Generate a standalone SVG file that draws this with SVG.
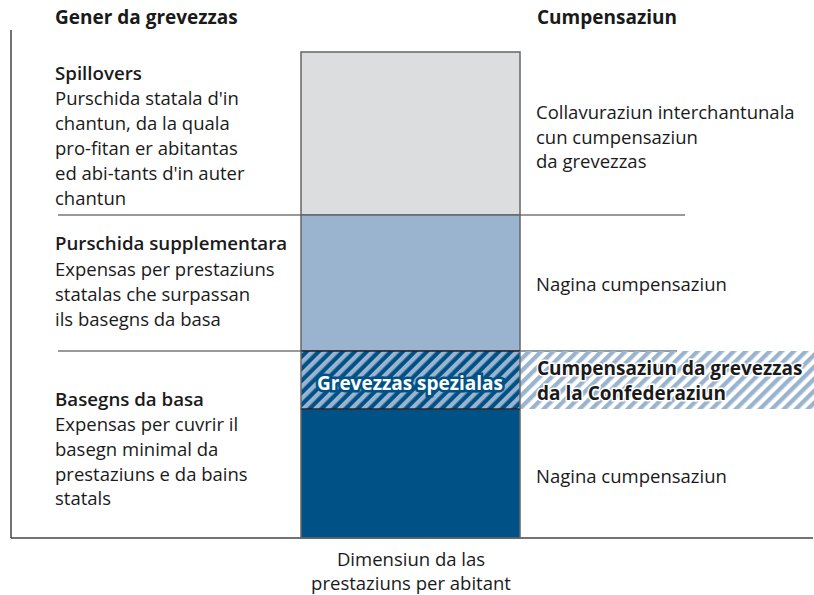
<svg xmlns="http://www.w3.org/2000/svg" width="814" height="595" viewBox="0 0 814 595">
<style>
text{font-family:"Open Sans","Noto Sans","Liberation Sans",sans-serif;font-size:18.5px;fill:#1a1a1a}
.b{font-weight:700;font-size:19px}
.h{font-weight:600;font-size:18.7px}
.axis{stroke:#444;stroke-width:1.5;fill:none}
.sep{stroke:#777;stroke-width:1.5;fill:none}
.box{stroke:#666;stroke-width:1.5}
</style>
<defs>
<pattern id="hatch" patternUnits="userSpaceOnUse" width="8.5" height="8.5" patternTransform="rotate(45)">
<rect x="0" y="0" width="4.3" height="8.5" fill="#9ab4d0"/>
</pattern>
</defs>
<g id="axes">
<line class="axis" x1="11" y1="30" x2="11" y2="538"/>
<line class="axis" x1="11" y1="538" x2="813" y2="538"/>
</g>
<g id="connectors">
<line class="sep" x1="58" y1="215" x2="685" y2="215"/>
<line class="sep" x1="58" y1="351" x2="677" y2="351"/>
</g>
<g id="headers">
<text class="b" x="55" y="24">Gener da grevezzas</text>
<text class="b" x="537" y="24">Cumpensaziun</text>
</g>
<g id="spillovers">
<rect class="box" x="301" y="52" width="219" height="163" fill="#dcdddf"/>
<text x="55" y="80" class="h">Spillovers</text>
<text x="55" y="105">Purschida statala d'in</text>
<text x="55" y="130">chantun, da la quala</text>
<text x="55" y="155">pro-fitan er abitantas</text>
<text x="55" y="180">ed abi-tants d'in auter</text>
<text x="55" y="205">chantun</text>
<text x="536" y="119">Collavuraziun interchantunala</text>
<text x="536" y="144">cun cumpensaziun</text>
<text x="536" y="168">da grevezzas</text>
</g>
<g id="supplementara">
<rect class="box" x="301" y="215" width="219" height="136" fill="#9ab4d0"/>
<text x="55" y="250" class="h">Purschida supplementara</text>
<text x="55" y="276">Expensas per prestaziuns</text>
<text x="55" y="301">statalas che surpassan</text>
<text x="55" y="326">ils basegns da basa</text>
<text x="536" y="291">Nagina cumpensaziun</text>
</g>
<g id="basa">
<rect class="box" x="301" y="409" width="219" height="129" fill="#005286"/>
<text x="55" y="406" class="h">Basegns da basa</text>
<text x="55" y="431">Expensas per cuvrir il</text>
<text x="55" y="456">basegn minimal da</text>
<text x="55" y="481">prestaziuns e da bains</text>
<text x="55" y="505">statals</text>
<text x="536" y="483">Nagina cumpensaziun</text>
</g>
<g id="spezialas">
<rect x="301" y="351" width="219" height="58" fill="#005286"/>
<rect x="301" y="351" width="513" height="58" fill="url(#hatch)"/>
<line x1="301" y1="351" x2="520" y2="351" stroke="#1a2533" stroke-width="1.5"/>
<line x1="301" y1="409" x2="520" y2="409" stroke="#1a2533" stroke-width="1.5"/>
<line x1="301" y1="351" x2="301" y2="409" stroke="#666" stroke-width="1.5"/>
<line x1="520" y1="351" x2="520" y2="409" stroke="#666" stroke-width="1.5"/>
<text x="410" y="390" text-anchor="middle" class="b" style="fill:#fff;stroke:#005286;stroke-width:5;paint-order:stroke">Grevezzas spezialas</text>
<text x="537" y="375" class="b" style="stroke:#fff;stroke-width:3;paint-order:stroke">Cumpensaziun da grevezzas</text>
<text x="537" y="400" class="b" style="stroke:#fff;stroke-width:3;paint-order:stroke">da la Confederaziun</text>
</g>
<g id="xlabel">
<text x="411" y="566" text-anchor="middle">Dimensiun da las</text>
<text x="411" y="590" text-anchor="middle">prestaziuns per abitant</text>
</g>
</svg>
